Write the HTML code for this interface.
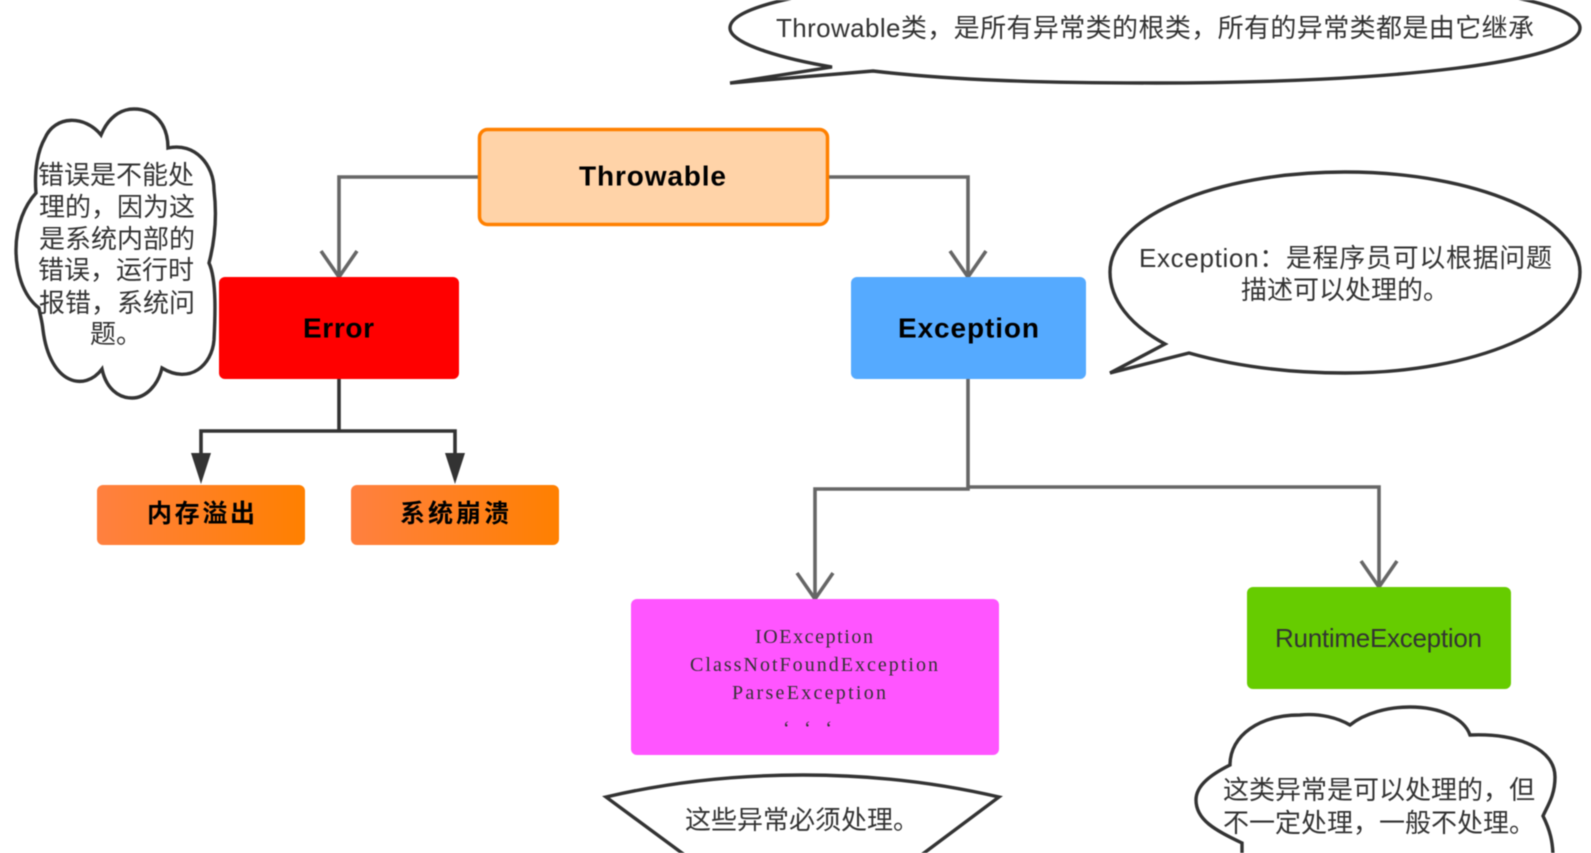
<!DOCTYPE html>
<html><head><meta charset="utf-8"><style>
html,body{margin:0;padding:0;background:#fff;width:1591px;height:853px;overflow:hidden}
svg{display:block;filter:blur(.45px)}
text{font-family:"Liberation Sans","Noto Sans CJK SC",sans-serif;fill:#333;dominant-baseline:central;font-size:26px}
.b{font-weight:bold;fill:#000;font-size:28px}
.c{font-family:"Liberation Sans","Noto Sans CJK SC",sans-serif;font-weight:bold;fill:#000;font-size:25px}
.s{font-family:"Liberation Serif","Noto Serif CJK SC",serif;font-size:20px;fill:#333}
.ln{fill:none;stroke:#666;stroke-width:3.6}
.dk{fill:none;stroke:#333;stroke-width:3.6}
.sh{fill:#fff;stroke:#333;stroke-width:3.4;stroke-linejoin:miter}
</style></head><body>
<svg width="1591" height="853" viewBox="0 0 1591 853" xmlns="http://www.w3.org/2000/svg">
<defs><linearGradient id="o" x1="0" x2="1" y1="0" y2="0"><stop offset="0" stop-color="#ff8040"/><stop offset="1" stop-color="#ff8000"/></linearGradient></defs>

<path class="sh" d="M730 83 L832 67 C790 60 730 45 730 28 C730 -5 920 -27 1156 -27 C1390 -27 1580 -5 1580 28 C1580 62 1390 83 1156 83 C1040 83 950 80 873 71 Z"/>
<text x="776" y="28" textLength="758" lengthAdjust="spacing">Throwable类，是所有异常类的根类，所有的异常类都是由它继承</text>

<path class="sh" d="M101 135 C108 118 120 109 134 109 C155 109 168 125 168 148 C195 142 214 165 214 190 C217 215 215 240 209 263 C217 280 215 320 214 340 C212 365 190 385 162 368 C158 385 146 398 132 398 C118 398 106 388 102 369 C85 392 50 385 43 330 C42 320 40 315 39 308 C22 295 16 270 16 250 C16 225 25 205 36 193 C34 170 38 150 45 138 C55 115 85 115 101 135 Z"/>
<text x="38" y="175" textLength="156" lengthAdjust="spacing">错误是不能处</text>
<text x="39" y="207" textLength="156" lengthAdjust="spacing">理的，因为这</text>
<text x="39" y="239" textLength="156" lengthAdjust="spacing">是系统内部的</text>
<text x="38" y="270" textLength="156" lengthAdjust="spacing">错误，运行时</text>
<text x="39" y="303" textLength="156" lengthAdjust="spacing">报错，系统问</text>
<text x="90" y="334" textLength="52" lengthAdjust="spacing">题。</text>

<path class="sh" d="M1110 373 L1165 344 C1130 325 1110 300 1110 272 C1110 217 1215 172 1345 172 C1475 172 1580 217 1580 272 C1580 328 1475 373 1345 373 C1285 373 1235 366 1189 353 Z"/>
<text x="1139" y="258" textLength="413" lengthAdjust="spacing">Exception：是程序员可以根据问题</text>
<text x="1241" y="290" textLength="208" lengthAdjust="spacing">描述可以处理的。</text>

<path class="ln" d="M478 177H339V277M321 251L339 277L357 251"/>
<path class="ln" d="M828 177H968V277M950 251L968 277L986 251"/>
<path class="ln" d="M968 379V489H815V599M797 573L815 599L833 573"/>
<path class="ln" d="M968 487H1379V587M1361 561L1379 587L1397 561"/>
<path class="dk" d="M339 379V431H201V455M339 431H455V455"/>
<path d="M191 453H211L201 484Z M445 453H465L455 484Z" fill="#333"/>

<rect x="479.5" y="129.5" width="348" height="95" rx="8" fill="#ffd3a8" stroke="#ff8000" stroke-width="3.5"/>
<text class="b" x="579" y="176" textLength="147" lengthAdjust="spacing">Throwable</text>

<rect x="219" y="277" width="240" height="102" rx="6" fill="#f00"/>
<text class="b" x="303" y="328" textLength="71" lengthAdjust="spacing">Error</text>

<rect x="851" y="277" width="235" height="102" rx="6" fill="#55aaff"/>
<text class="b" x="898" y="328" textLength="141" lengthAdjust="spacing">Exception</text>

<rect x="97" y="485" width="208" height="60" rx="6" fill="url(#o)"/>
<text class="c" x="147" y="514" textLength="108" lengthAdjust="spacing">内存溢出</text>
<rect x="351" y="485" width="208" height="60" rx="6" fill="url(#o)"/>
<text class="c" x="400" y="514" textLength="109" lengthAdjust="spacing">系统崩溃</text>

<rect x="631" y="599" width="368" height="156" rx="6" fill="#ff55ff"/>
<text class="s" x="755" y="637" textLength="118" lengthAdjust="spacing">IOException</text>
<text class="s" x="690" y="665" textLength="248" lengthAdjust="spacing">ClassNotFoundException</text>
<text class="s" x="732" y="693" textLength="154" lengthAdjust="spacing">ParseException</text>
<text class="s" x="783" y="729" textLength="49" lengthAdjust="spacing">‘ ‘ ‘</text>

<rect x="1247" y="587" width="264" height="102" rx="6" fill="#66cc00"/>
<text x="1275" y="638" textLength="207" lengthAdjust="spacing">RuntimeException</text>

<path class="sh" d="M686 856 L606 797 C670 782 735 775 803 775 C870 775 935 782 999 797 L920 856"/>
<text x="685" y="820" textLength="234" lengthAdjust="spacing">这些异常必须处理。</text>

<path class="sh" d="M1242 858 L1242 843 C1215 830 1196 820 1196 800 C1196 785 1212 774 1230 765 C1230 735 1260 715 1300 715 C1320 713 1338 718 1350 725 C1365 713 1388 707 1410 707 C1440 707 1464 718 1470 735 C1520 733 1555 750 1555 777 C1555 795 1548 805 1543 816 C1550 830 1553 842 1553 858"/>
<text x="1223" y="790" textLength="312" lengthAdjust="spacing">这类异常是可以处理的，但</text>
<text x="1223" y="823" textLength="312" lengthAdjust="spacing">不一定处理，一般不处理。</text>
</svg>
</body></html>
